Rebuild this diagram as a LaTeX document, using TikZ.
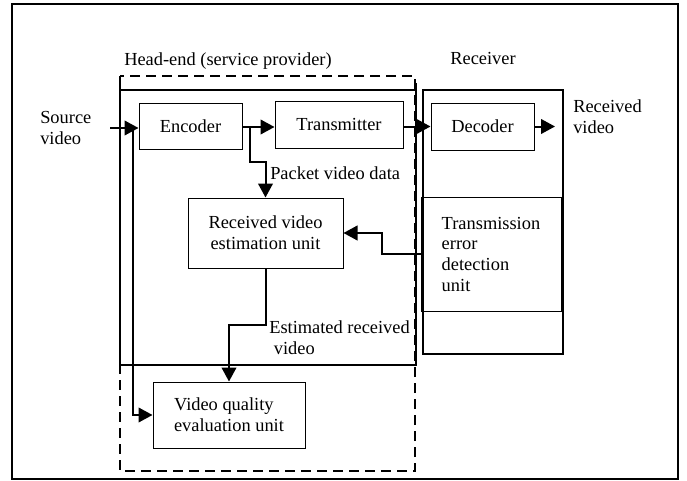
\documentclass[tikz,border=0pt]{standalone}
\usepackage{fontspec}
\setmainfont{Liberation Serif}
\usetikzlibrary{arrows.meta}
\begin{document}
\begin{tikzpicture}[x=0.75pt,y=-0.75pt,
  every node/.style={font=\fontsize{13.8}{15.5}\selectfont},
  box/.style={draw, line width=0.75pt, inner sep=0pt, align=center},
  lbl/.style={inner sep=0pt, align=left},
  frame/.style={line width=1.5pt},
  dashframe/.style={line width=1.5pt, dash pattern=on 7.5pt off 4.5pt},
  arr/.style={line width=1.5pt, -{Triangle[length=10.5pt,width=11pt]}},
  plain/.style={line width=1.5pt}]
\useasboundingbox (0,0) rectangle (687,480);
% frames
\draw[frame] (12,4) rectangle (678,479);
\draw[dashframe] (120,76) rectangle (415,471);
\draw[frame] (120,90) rectangle (416,365);
\draw[frame] (120,83) -- (120,90);
\draw[frame] (416,83) -- (416,90);
\draw[frame] (423,90) rectangle (563,354);
% nodes
\node[box, minimum width=77.25pt, minimum height=34.5pt] (enc) at (190.5,126) {Encoder};
\node[box, minimum width=96pt, minimum height=35.25pt] (tx) at (339,124.5) {Transmitter};
\node[box, minimum width=77.25pt, minimum height=35.25pt] (dec) at (482.5,126.5) {Decoder};
\node[box, minimum width=116.25pt, minimum height=52.5pt] (rve) at (265.5,233) {Received video\\estimation unit};
\node[box, align=left, minimum width=114pt, minimum height=49.5pt] (vqe) at (229,415) {Video quality\\evaluation unit};
\node[box, align=left, minimum width=105pt, minimum height=85.5pt] (ted) at (491,254) {Transmission\\error\\detection\\unit};
% labels
\node[lbl, anchor=west] (hl) at (124,61) {Head-end (service provider)};
\node[lbl] (rl) at (483,58) {Receiver};
\node[lbl, anchor=west] (sl) at (40,128) {Source\\video};
\node[lbl, anchor=west] (ol) at (573,117) {Received\\video};
\node[lbl, anchor=west] (pl) at (270,173) {Packet video data};
\node[lbl, anchor=west] (el) at (269,338) {Estimated received\\\ video};
% coordinates
\coordinate (src) at (110,128);
\coordinate (b1) at (133,128);
\coordinate (b2) at (250,127);
\coordinate (out) at (555,126.5);
% connectors
\draw[arr] (src) -- (src -| enc.west);
\draw[arr] (b1) |- (vqe.west);
\draw[arr] (enc.east |- b2) -- (b2 -| tx.west);
\draw[arr] (b2) -- ++(0,35) -| (rve.north);
\draw[arr] (tx.east |- dec.west) -- (dec.west);
\draw[arr] (dec.east) -- (out);
\draw[arr] (ted.west) -- ++(-39,0) |- (rve.east);
\draw[arr] (rve.south) -- ++(0,56) -| (vqe.north);
\end{tikzpicture}
\end{document}
